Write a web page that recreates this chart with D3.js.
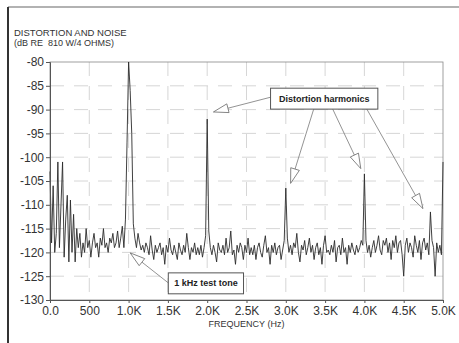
<!DOCTYPE html>
<html>
<head>
<meta charset="utf-8">
<script src="https://cdn.jsdelivr.net/npm/d3@7"></script>
<style>
  html, body { margin: 0; padding: 0; background: #fff; }
  svg text { font-family: "Liberation Sans", Arial, sans-serif; fill: #333; }
  .tick text { font-size: 12px; }
  .anno { font-size: 9px; font-weight: bold; fill: #222; }
</style>
</head>
<body>
<div id="chart"></div>
<script>
// spectrum, one value every 20 Hz from 0 to 5000 Hz (dB)
const step = 20;
const levels = [
  -103, -118, -106, -120, -116, -101, -119, -110, -101, -121,
  -113, -108, -122, -109, -120, -112, -122, -115, -119, -116,
  -121, -118, -120, -115, -119, -117.5, -121, -118, -116, -119,
  -118, -121, -117, -118.5, -115, -119, -118, -120, -117, -118,
  -116, -119, -118, -115.5, -119, -117, -114.5, -119, -113, -97,
  -80, -86, -95, -114, -117, -119, -116, -118, -119.5, -118.5,
  -120, -118, -119, -120.5, -116.5, -119.5, -121.5, -118.5, -120, -119,
  -118, -120.5, -119, -122.5, -118.5, -120, -117, -119.5, -120.5, -118.5,
  -120, -121.5, -118, -119.5, -120.5, -118.5, -120, -116, -119, -121.5,
  -119, -120, -118, -120.5, -119, -120.5, -118.5, -121, -119, -116.5,
  -92, -115.5, -119, -120.5, -118.5, -120, -122, -118, -119.5, -120,
  -118.5, -120.5, -117, -120, -119, -115.5, -120.5, -119.5, -122.5, -118.5,
  -120, -118, -119, -121.5, -118.5, -120, -117, -120.5, -119, -120.5,
  -118.5, -121.5, -119, -118, -120, -121, -118.5, -116.5, -120, -119,
  -122.5, -118.5, -120, -118, -120.5, -119, -118.5, -121.5, -119.5, -117.5,
  -106.5, -117, -120, -118.5, -120.5, -118, -119, -116, -120, -122,
  -118.5, -119.5, -117.5, -120.5, -119, -117, -120, -118.5, -121.5, -119,
  -118, -120.5, -119, -122.5, -118.5, -116.5, -120, -119.5, -120.5, -118.5,
  -120, -117.5, -122, -119, -118.5, -120.5, -117, -120, -119, -122.5,
  -118.5, -120, -118, -119.5, -120.5, -118.5, -120, -119, -117.5, -118.5,
  -103.5, -117.5, -120, -118.5, -121, -119, -117.5, -120, -118.5, -116.5,
  -119.5, -120.5, -117.5, -118.5, -117, -120, -118, -121.5, -117.5, -119,
  -116.5, -120, -118, -117.5, -120.5, -125, -118.5, -117, -120, -118,
  -119, -121, -116.5, -118.5, -120, -117.5, -121.5, -118, -117, -119.5,
  -118, -120.5, -111.5, -117.5, -119, -125, -118, -120, -118.5, -120.5,
  -101
];

const freqTicks = [0, 500, 1000, 1500, 2000, 2500, 3000, 3500, 4000, 4500, 5000];
const freqLabels = ['0.0', '500', '1.0K', '1.5K', '2.0K', '2.5K', '3.0K', '3.5K', '4.0K', '4.5K', '5.0K'];
const dbTicks = [-80, -85, -90, -95, -100, -105, -110, -115, -120, -125, -130];

// annotation boxes and arrows, in data units (Hz, dB)
const harmonicsBox = { label: 'Distortion harmonics', f0: 2806, f1: 4171, d0: -85.5, d1: -89.9 };
const harmonicArrows = [
  { from: [2806, -87.4], to: [2079, -90.5] },
  { from: [3355, -89.9], to: [3061, -105.5] },
  { from: [3597, -89.9], to: [3954, -102.4] },
  { from: [4031, -89.9], to: [4745, -110.8] }
];
const toneBox = { label: '1 kHz test tone', f0: 1505, f1: 2462, d0: -124.3, d1: -128.7 };
const toneArrows = [
  { from: [1505, -126.4], to: [1020, -120.1] }
];

const W = 459, H = 343;
const margin = { top: 62, right: 16, bottom: 43, left: 50 };
const width = W - margin.left - margin.right;
const height = H - margin.top - margin.bottom;

const svg = d3.select('#chart').append('svg')
  .attr('width', W)
  .attr('height', H);

// outer frame of the scanned page
svg.append('line').attr('x1', 8).attr('x2', W).attr('y1', 7).attr('y2', 7)
  .attr('stroke', '#666').attr('stroke-width', 1.2);
svg.append('line').attr('x1', 8).attr('x2', 8).attr('y1', 7).attr('y2', H)
  .attr('stroke', '#333').attr('stroke-width', 2);

svg.append('text').attr('x', 14).attr('y', 36).style('font-size', '9.5px')
  .text('DISTORTION AND NOISE');
svg.append('text').attr('x', 14).attr('y', 46).style('font-size', '9px')
  .text('(dB RE\u00a0\u00a0810 W/4 OHMS)');

const g = svg.append('g').attr('transform', 'translate(' + margin.left + ',' + margin.top + ')');

const x = d3.scaleLinear().domain([0, 5000]).range([0, width]);
const y = d3.scaleLinear().domain([-130, -80]).range([height, 0]);

/* grid */
g.append('g').selectAll('line')
  .data(freqTicks.slice(1, -1))
  .enter().append('line')
  .attr('x1', d => x(d)).attr('x2', d => x(d))
  .attr('y1', 0).attr('y2', height)
  .attr('stroke', '#cccccc').attr('stroke-width', 0.8)
  .attr('stroke-dasharray', '14,10');

g.append('g').selectAll('line')
  .data(dbTicks.slice(1, -1))
  .enter().append('line')
  .attr('x1', 0).attr('x2', width)
  .attr('y1', d => y(d)).attr('y2', d => y(d))
  .attr('stroke', '#cccccc').attr('stroke-width', 0.8)
  .attr('stroke-dasharray', '14,10');

/* plot frame */
g.append('rect')
  .attr('width', width).attr('height', height)
  .attr('fill', 'none').attr('stroke', '#888').attr('stroke-width', 0.8);

/* spectrum */
const line = d3.line()
  .x((d, i) => x(i * step))
  .y(d => y(d));

g.append('path')
  .datum(levels)
  .attr('fill', 'none')
  .attr('stroke', '#2b2b2b')
  .attr('stroke-width', 0.9)
  .attr('d', line);

/* axes */
const yAxis = g.append('g')
  .call(d3.axisLeft(y).tickValues(dbTicks).tickSize(4).tickPadding(2).tickFormat(d => String(d)));

const xAxis = g.append('g')
  .attr('transform', 'translate(0,' + height + ')')
  .call(d3.axisBottom(x).tickValues(freqTicks).tickSize(3).tickPadding(3)
    .tickFormat((d, i) => freqLabels[i]));

[yAxis, xAxis].forEach(a => {
  a.select('.domain').attr('stroke', '#555');
  a.selectAll('.tick line').attr('stroke', '#555');
  a.selectAll('.tick text').attr('fill', '#333').style('font-family', '"Liberation Sans", Arial, sans-serif');
});

svg.append('text')
  .attr('x', margin.left + x(2500))
  .attr('y', 327)
  .attr('text-anchor', 'middle')
  .style('font-size', '9px')
  .text('FREQUENCY (Hz)');

/* annotations */
function drawBox(b) {
  const bx = x(b.f0), by = y(b.d0);
  g.append('rect')
    .attr('x', bx).attr('y', by)
    .attr('width', x(b.f1) - bx).attr('height', y(b.d1) - by)
    .attr('fill', '#fff').attr('stroke', '#555').attr('stroke-width', 1);
  g.append('text')
    .attr('class', 'anno')
    .attr('x', (bx + x(b.f1)) / 2)
    .attr('y', (by + y(b.d1)) / 2 + 3)
    .attr('text-anchor', 'middle')
    .text(b.label);
}

function drawArrow(a) {
  const x1 = x(a.from[0]), y1 = y(a.from[1]);
  const x2 = x(a.to[0]), y2 = y(a.to[1]);
  const ang = Math.atan2(y2 - y1, x2 - x1);
  const len = 15, half = 4.5;
  const bx = x2 - len * Math.cos(ang), by = y2 - len * Math.sin(ang);
  const px = -Math.sin(ang) * half, py = Math.cos(ang) * half;
  g.append('line')
    .attr('x1', x1).attr('y1', y1).attr('x2', bx).attr('y2', by)
    .attr('stroke', '#777').attr('stroke-width', 0.8);
  g.append('path')
    .attr('d', 'M' + x2 + ',' + y2 + 'L' + (bx + px) + ',' + (by + py) + 'L' + (bx - px) + ',' + (by - py) + 'Z')
    .attr('fill', '#fff').attr('stroke', '#666').attr('stroke-width', 0.8);
}

harmonicArrows.forEach(drawArrow);
toneArrows.forEach(drawArrow);
drawBox(harmonicsBox);
drawBox(toneBox);
</script>
</body>
</html>
